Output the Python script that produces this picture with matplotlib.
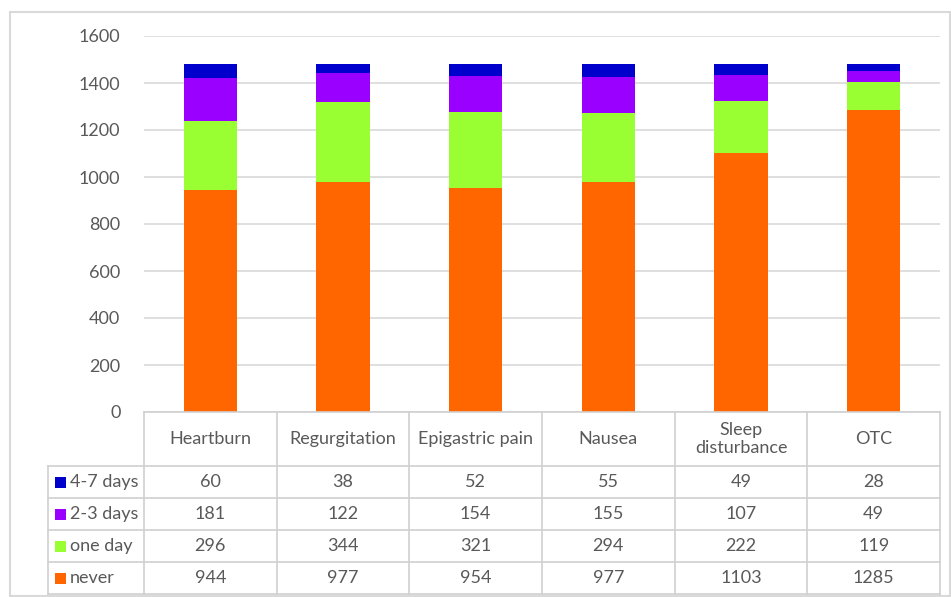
import matplotlib
matplotlib.use("Agg")
import matplotlib.pyplot as plt
from matplotlib.lines import Line2D
from matplotlib.patches import Rectangle
import numpy as np

categories = ["Heartburn", "Regurgitation", "Epigastric pain", "Nausea", "Sleep\ndisturbance", "OTC"]
series_names = ["4-7 days", "2-3 days", "one day", "never"]
never = [944, 977, 954, 977, 1103, 1285]
one_day = [296, 344, 321, 294, 222, 119]
two_three = [181, 122, 154, 155, 107, 49]
four_seven = [60, 38, 52, 55, 49, 28]
colors = {"4-7 days": "#0000CC", "2-3 days": "#9900FF", "one day": "#99FF33", "never": "#FF6600"}
yticks = [0, 200, 400, 600, 800, 1000, 1200, 1400, 1600]

W, H = 951, 597
plt.rcParams['font.family'] = ['Lato', 'DejaVu Sans']
fig = plt.figure(figsize=(W / 100, H / 100), dpi=100)
TXT = "#595959"
GRID = "#d9d9d9"
FS = 13

def fx(px):
    return px / W

def fy(py):
    return 1 - py / H

left, right, top, bottom = 144, 940, 36, 412
ax = fig.add_axes([fx(left), fy(bottom), fx(right - left), (bottom - top) / H])
n = len(categories)
x = np.arange(n)
series = {"never": never, "one day": one_day, "2-3 days": two_three, "4-7 days": four_seven}
base = np.zeros(n)
for name in ["never", "one day", "2-3 days", "4-7 days"]:
    vals = np.array(series[name])
    ax.bar(x, vals, bottom=base, width=0.4, color=colors[name], zorder=3)
    base += vals
ax.set_xlim(-0.5, n - 0.5)
ax.set_ylim(0, 1600)
ax.set_yticks(yticks)
ax.set_yticklabels([str(t) for t in yticks], fontsize=FS, color=TXT)
ax.tick_params(axis='y', length=0, pad=17)
ax.set_xticks([])
ax.grid(axis='y', color=GRID, linewidth=1.2, zorder=0)
for s in ax.spines.values():
    s.set_visible(False)

# outer border
fig.add_artist(Rectangle((fx(10), fy(596)), fx(950 - 10), (596 - 12) / H,
                         transform=fig.transFigure, fill=False, edgecolor=GRID, linewidth=1.5))

# table
col_w = (right - left) / n
row_y = [466, 498, 530, 562, 594]
lc = "#d0d0d0"

def hline(y, x0, x1):
    fig.add_artist(Line2D([fx(x0), fx(x1)], [fy(y), fy(y)], transform=fig.transFigure, color=lc, linewidth=1.2))

def vline(xp, y0, y1):
    fig.add_artist(Line2D([fx(xp), fx(xp)], [fy(y0), fy(y1)], transform=fig.transFigure, color=lc, linewidth=1.2))

hline(bottom, left, right)
for y in row_y:
    hline(y, 48, right)
for k in range(n + 1):
    vline(left + k * col_w, bottom, 594)
vline(48, 466, 594)

for k, c in enumerate(categories):
    fig.text(fx(left + (k + 0.5) * col_w), fy((bottom + 466) / 2), c, ha='center', va='center',
             fontsize=FS, color=TXT, linespacing=1.15)

for r, name in enumerate(series_names):
    yc = (row_y[r] + row_y[r + 1]) / 2
    fig.add_artist(Rectangle((fx(55), fy(yc + 5.5)), fx(11), 11 / H, transform=fig.transFigure,
                             facecolor=colors[name], edgecolor='none'))
    fig.text(fx(70), fy(yc), name, ha='left', va='center', fontsize=FS, color=TXT)
    vals = series[name]
    for k in range(n):
        fig.text(fx(left + (k + 0.5) * col_w), fy(yc), str(vals[k]), ha='center', va='center',
                 fontsize=FS, color=TXT)

fig.savefig("out.png", dpi=100, facecolor='white')
